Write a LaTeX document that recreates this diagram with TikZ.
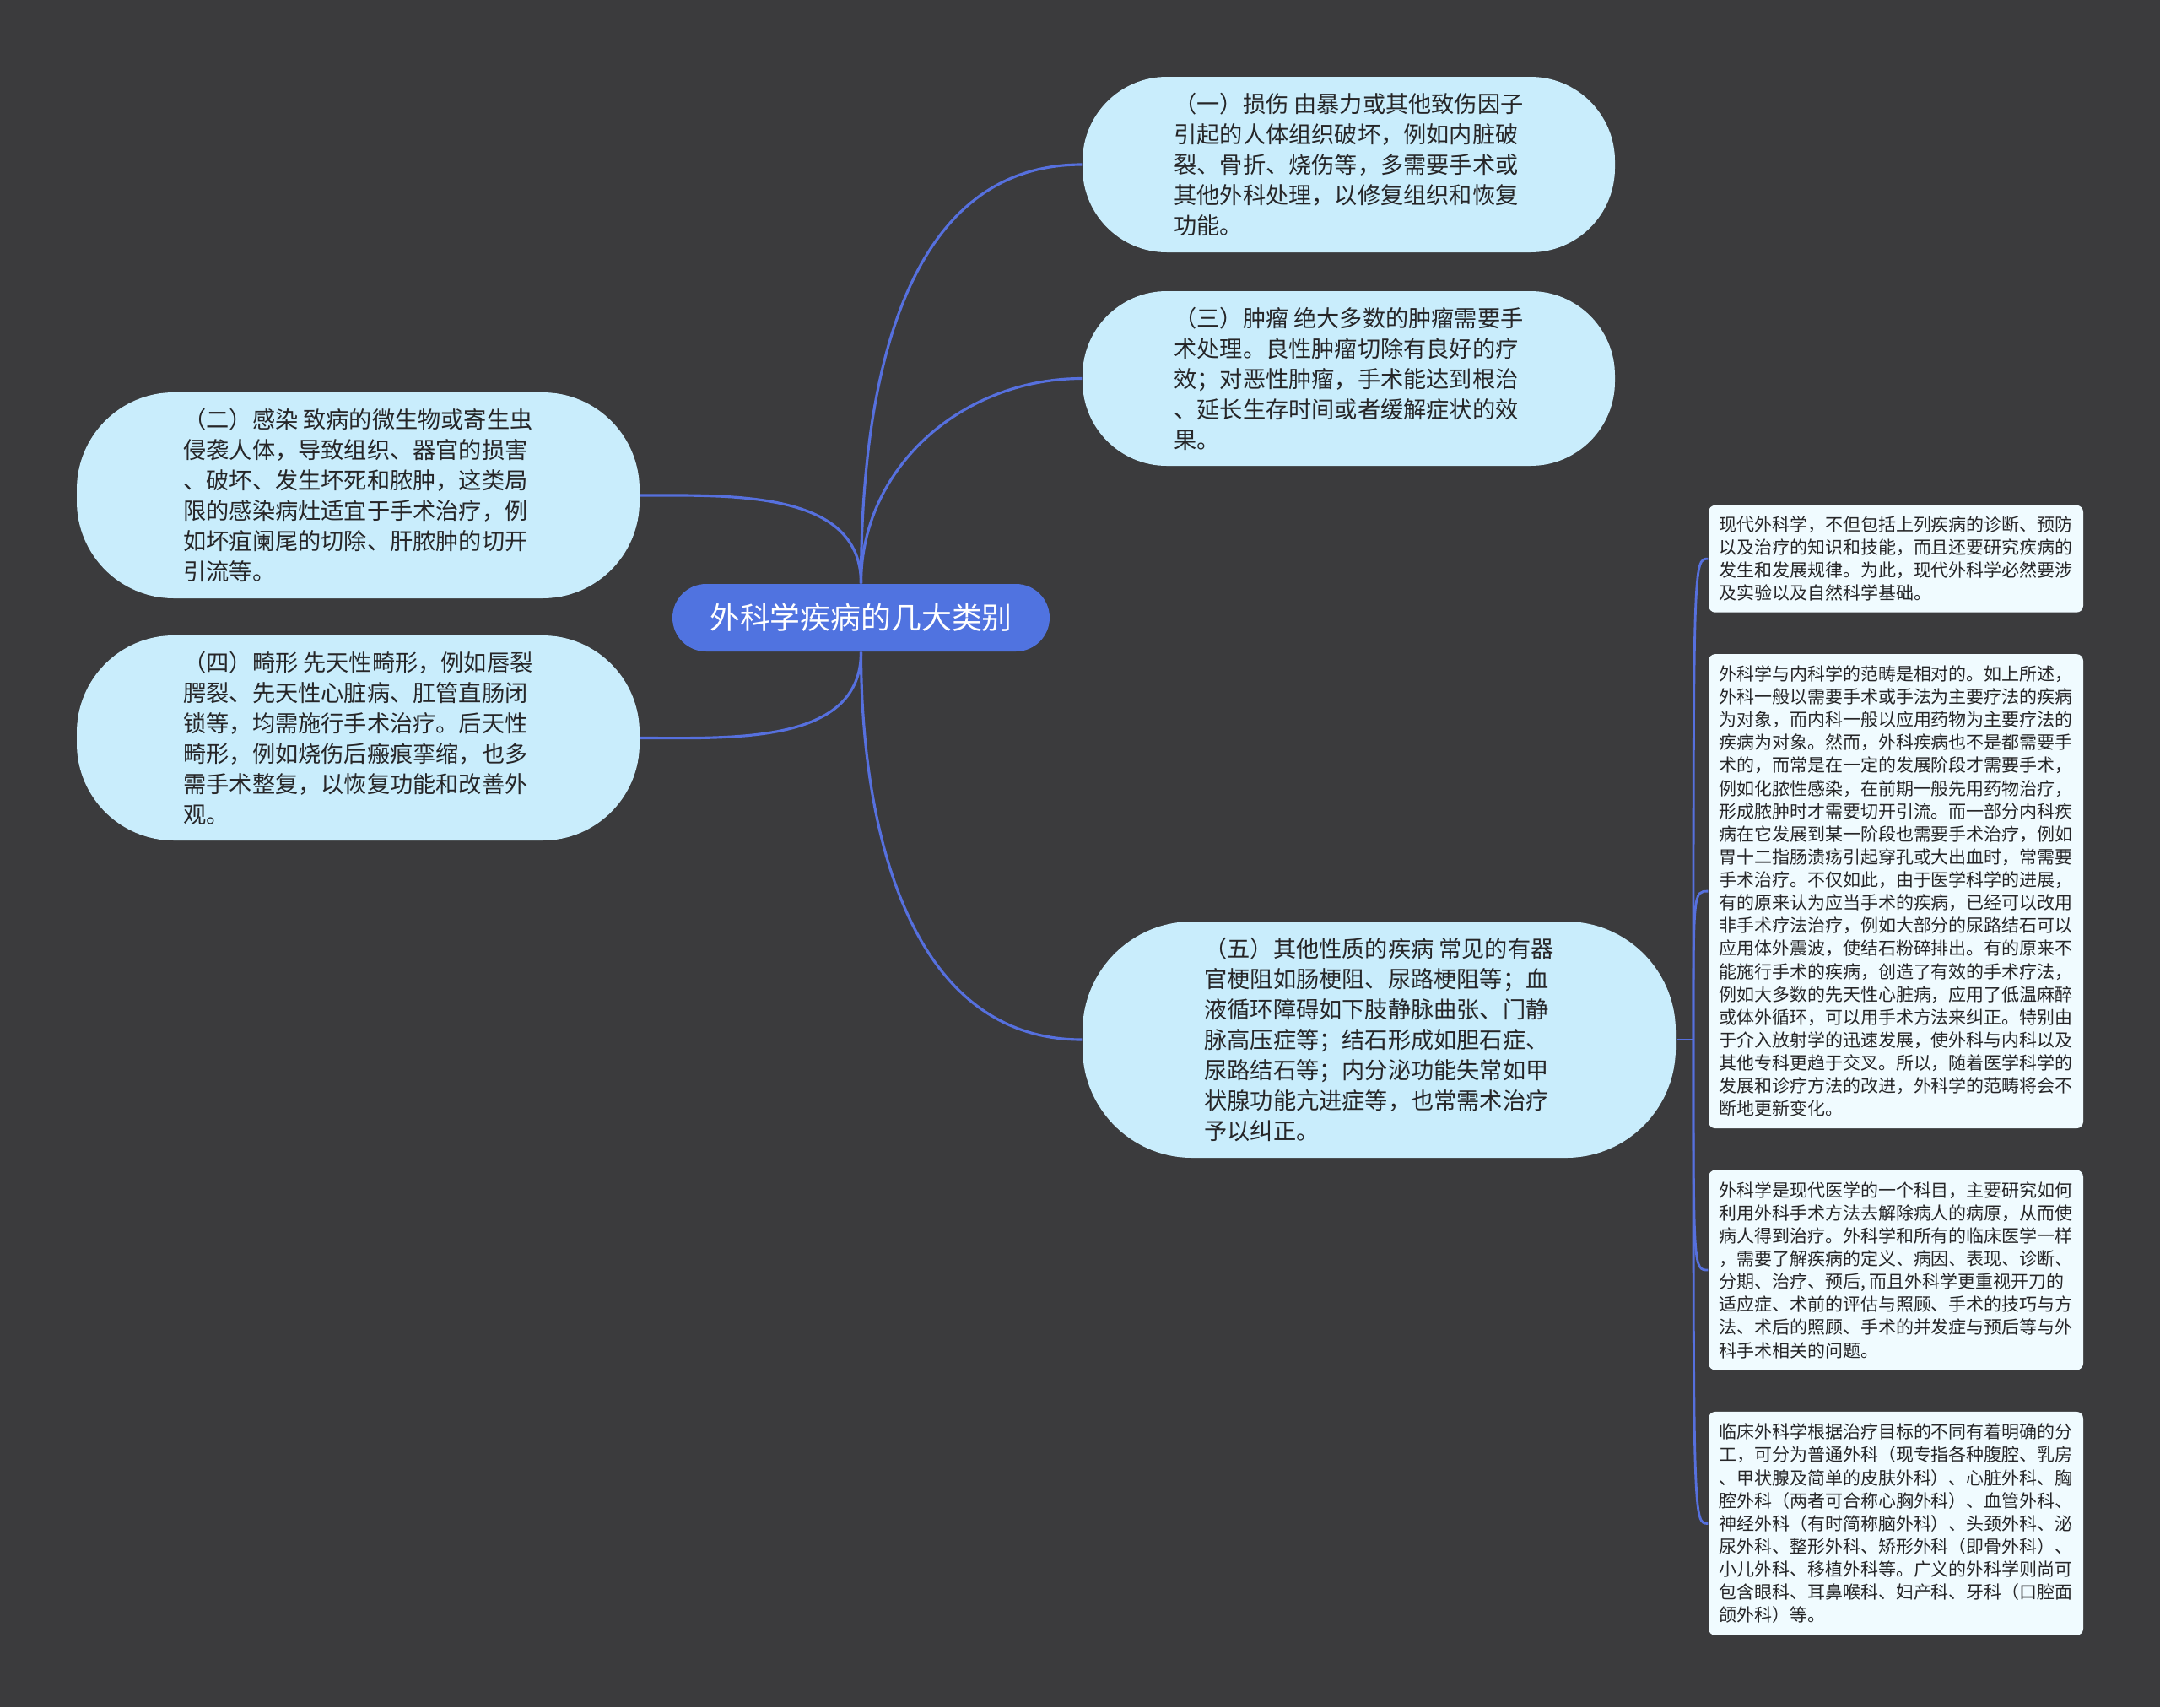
\documentclass[tikz,border=0pt]{standalone}
\usepackage{fontspec}
\setmainfont{Noto Sans CJK SC}
\usetikzlibrary{positioning,backgrounds}
\definecolor{BgDark}{RGB}{59,59,61}
\definecolor{RootBlue}{RGB}{80,115,224}
\definecolor{EdgeBlue}{RGB}{86,112,222}
\definecolor{BubbleCyan}{RGB}{201,237,252}
\definecolor{LeafWhite}{RGB}{240,251,255}
\definecolor{InkDark}{RGB}{38,38,40}
\tikzset{
  rootbox/.style={fill=RootBlue,rounded corners=0.4cm,
                  minimum width=4.47cm,minimum height=0.8cm,
                  font=\fontsize{10.2}{12}\selectfont,text=white},
  bubble/.style={fill=BubbleCyan,align=left,inner sep=0pt,
                 font=\fontsize{7.74}{10.24}\selectfont,text=InkDark},
  leafbox/.style={fill=LeafWhite,rounded corners=0.08cm,align=left,
                  minimum width=4.44cm,inner sep=0.1cm,anchor=north,
                  font=\fontsize{5.97}{7.72}\selectfont,text=InkDark},
}

\begin{document}
\begin{tikzpicture}[
    node distance=0.48cm, % gap between the leaf boxes
    edge/.style={draw=EdgeBlue,line width=0.9pt},
    twig/.style={draw=EdgeBlue,line width=0.8pt}
  ]
    \fill[BgDark] (0,0) rectangle (25.6,-20.23);
    \useasboundingbox (0,0) rectangle (25.6,-20.23);

    % Nodes
    \node[rootbox] (root) at (10.205,-7.32) {外科学疾病的几大类别};

    \node[bubble,minimum width=6.31cm,minimum height=2.08cm,rounded corners=1cm]
      (sunshang) at (15.985,-1.95)
      {（一）损伤 由暴力或其他致伤因子\\引起的人体组织破坏，例如内脏破\\裂、骨折、烧伤等，多需要手术或\\其他外科处理，以修复组织和恢复\\功能。};
    \node[bubble,minimum width=6.31cm,minimum height=2.07cm,rounded corners=1cm]
      (zhongliu) at (15.985,-4.485)
      {（三）肿瘤 绝大多数的肿瘤需要手\\术处理。良性肿瘤切除有良好的疗\\效；对恶性肿瘤，手术能达到根治\\、延长生存时间或者缓解症状的效\\果。};
    \node[bubble,minimum width=6.67cm,minimum height=2.44cm,rounded corners=1.15cm]
      (ganran) at (4.245,-5.87)
      {（二）感染 致病的微生物或寄生虫\\侵袭人体，导致组织、器官的损害\\、破坏、发生坏死和脓肿，这类局\\限的感染病灶适宜于手术治疗，例\\如坏疽阑尾的切除、肝脓肿的切开\\引流等。};
    \node[bubble,minimum width=6.67cm,minimum height=2.43cm,rounded corners=1.15cm]
      (jixing) at (4.245,-8.745)
      {（四）畸形 先天性畸形，例如唇裂\\腭裂、先天性心脏病、肛管直肠闭\\锁等，均需施行手术治疗。后天性\\畸形，例如烧伤后瘢痕挛缩，也多\\需手术整复，以恢复功能和改善外\\观。};
    \node[bubble,minimum width=7.03cm,minimum height=2.8cm,rounded corners=1.3cm]
      (qita) at (16.345,-12.32)
      {（五）其他性质的疾病 常见的有器\\官梗阻如肠梗阻、尿路梗阻等；血\\液循环障碍如下肢静脉曲张、门静\\脉高压症等；结石形成如胆石症、\\尿路结石等；内分泌功能失常如甲\\状腺功能亢进症等，也常需术治疗\\予以纠正。};

    % Leaves
    \node[leafbox,minimum height=1.27cm] (xiandai) at (22.47,-5.98)
      {现代外科学，不但包括上列疾病的诊断、预防\\以及治疗的知识和技能，而且还要研究疾病的\\发生和发展规律。为此，现代外科学必然要涉\\及实验以及自然科学基础。};
    \node[leafbox,minimum height=5.62cm,below=of xiandai] (fanchou)
      {外科学与内科学的范畴是相对的。如上所述，\\外科一般以需要手术或手法为主要疗法的疾病\\为对象，而内科一般以应用药物为主要疗法的\\疾病为对象。然而，外科疾病也不是都需要手\\术的，而常是在一定的发展阶段才需要手术，\\例如化脓性感染，在前期一般先用药物治疗，\\形成脓肿时才需要切开引流。而一部分内科疾\\病在它发展到某一阶段也需要手术治疗，例如\\胃十二指肠溃疡引起穿孔或大出血时，常需要\\手术治疗。不仅如此，由于医学科学的进展，\\有的原来认为应当手术的疾病，已经可以改用\\非手术疗法治疗，例如大部分的尿路结石可以\\应用体外震波，使结石粉碎排出。有的原来不\\能施行手术的疾病，创造了有效的手术疗法，\\例如大多数的先天性心脏病，应用了低温麻醉\\或体外循环，可以用手术方法来纠正。特别由\\于介入放射学的迅速发展，使外科与内科以及\\其他专科更趋于交叉。所以，随着医学科学的\\发展和诊疗方法的改进，外科学的范畴将会不\\断地更新变化。};
    \node[leafbox,minimum height=2.37cm,below=of fanchou] (dingyi)
      {外科学是现代医学的一个科目，主要研究如何\\利用外科手术方法去解除病人的病原，从而使\\病人得到治疗。外科学和所有的临床医学一样\\，需要了解疾病的定义、病因、表现、诊断、\\分期、治疗、预后, 而且外科学更重视开刀的\\适应症、术前的评估与照顾、手术的技巧与方\\法、术后的照顾、手术的并发症与预后等与外\\科手术相关的问题。};
    \node[leafbox,minimum height=2.65cm,below=of dingyi] (fenke)
      {临床外科学根据治疗目标的不同有着明确的分\\工，可分为普通外科（现专指各种腹腔、乳房\\、甲状腺及简单的皮肤外科）、心脏外科、胸\\腔外科（两者可合称心胸外科）、血管外科、\\神经外科（有时简称脑外科）、头颈外科、泌\\尿外科、整形外科、矫形外科（即骨外科）、\\小儿外科、移植外科等。广义的外科学则尚可\\包含眼科、耳鼻喉科、妇产科、牙科（口腔面\\颌外科）等。};

    \coordinate (hub) at (20.07,-12.32);

    % Connectors
    \draw[edge] (root.north) to[out=90,in=180] (sunshang.west);
    \draw[edge] (root.north) to[out=90,in=180] (zhongliu.west);
    \draw[edge] (root.north) to[out=90,in=0] (ganran.east);
    \draw[edge] (root.south) to[out=-90,in=0] (jixing.east);
    \draw[edge] (root.south) to[out=-90,in=180] (qita.west);

    \draw[twig] (qita.east) -- (hub);
    \foreach \leaf in {xiandai,fanchou,dingyi,fenke}
      \draw[twig] (hub) .. controls (hub |- \leaf.west) .. (\leaf.west);

\end{tikzpicture}
\end{document}
